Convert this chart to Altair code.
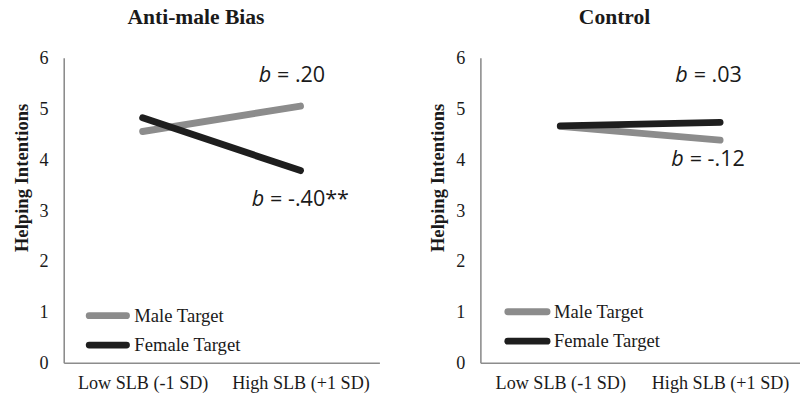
import altair as alt
import pandas as pd

levels = ["Low SLB (-1 SD)", "High SLB (+1 SD)"]
series = ["Male Target", "Female Target"]
panel_titles = ["Anti-male Bias", "Control"]
anti_male = [4.55, 5.05]
anti_female = [4.82, 3.78]
ctrl_male = [4.65, 4.38]
ctrl_female = [4.66, 4.73]
anti_slopes = [".20", "-.40**"]
ctrl_slopes = [".03", "-.12"]
y_ticks = [0, 1, 2, 3, 4, 5, 6]

colors = ["#8c8c8c", "#1e1e1e"]
SERIF = "Liberation Serif"
SANS = "Open Sans"

# label placement (value-axis position of each slope note, pixel nudge)
anti_note_y = [5.65, 3.22]
anti_note_dx = [-30, -37]
ctrl_note_y = [5.65, 4.0]
ctrl_note_dx = [-33, -37]


def panel(title, male, female, slopes, note_y, note_dx, width, leg):
    df = pd.DataFrame({
        "level": levels * 2,
        "series": [series[0]] * 2 + [series[1]] * 2,
        "value": male + female,
    })
    xscale = alt.Scale(domain=levels, type="point", padding=0.5)
    yscale = alt.Scale(domain=[0, 6], nice=False)
    xaxis = alt.Axis(title=None, labelAngle=0, ticks=False, labelPadding=11, grid=False)
    yaxis = alt.Axis(title="Helping Intentions", values=y_ticks, ticks=False, grid=False,
                     labelPadding=16, titlePadding=8, titleY=122)
    xenc = alt.X("level:N", sort=levels, scale=xscale, axis=xaxis)
    yenc = alt.Y("value:Q", scale=yscale, axis=yaxis)
    lines = alt.Chart(df).mark_line(strokeWidth=7, strokeCap="round").encode(
        x=xenc, y=yenc,
        color=alt.Color("series:N", scale=alt.Scale(domain=series, range=colors), legend=None),
        detail="series:N",
    )
    layers = [lines]
    for s, yv, dx in zip(slopes, note_y, note_dx):
        ndf = pd.DataFrame({"level": [levels[1]], "value": [yv], "b": ["b"], "rest": ["= " + s]})
        layers.append(alt.Chart(ndf).mark_text(font=SANS, fontSize=22, fontStyle="italic", align="right",
                                               baseline="middle", dx=dx, color="#1a1a1a").encode(
            x=xenc, y=yenc, text="b:N"))
        layers.append(alt.Chart(ndf).mark_text(font=SANS, fontSize=22, align="left",
                                               baseline="middle", dx=dx + 6, color="#1a1a1a").encode(
            x=xenc, y=yenc, text="rest:N"))
    # legend drawn inside the plot
    lx0, lx1, ltx, ly0, lgap = leg
    for i, name in enumerate(series):
        ldf = pd.DataFrame({"series": [name]})
        yy = ly0 + i * lgap
        layers.append(alt.Chart(ldf).mark_rule(strokeWidth=7, strokeCap="round", color=colors[i]).encode(
            x=alt.value(lx0), x2=alt.value(lx1), y=alt.value(yy)))
        layers.append(alt.Chart(ldf).mark_text(font=SERIF, fontSize=19, align="left", baseline="middle",
                                               color="#1a1a1a").encode(
            x=alt.value(ltx), y=alt.value(yy), text="series:N"))
    return alt.layer(*layers).properties(
        width=width, height=311,
        title=alt.TitleParams(title, font=SERIF, fontSize=22, fontWeight="bold", color="#1a1a1a",
                              anchor="middle", frame="bounds", offset=20),
    )


left = panel(panel_titles[0], anti_male, anti_female, anti_slopes, anti_note_y, anti_note_dx, 322,
             (26, 64, 72, 263, 30))
right = panel(panel_titles[1], ctrl_male, ctrl_female, ctrl_slopes, ctrl_note_y, ctrl_note_dx, 326,
              (28, 68, 75, 259, 30))

chart = alt.hconcat(left, right, spacing=50).properties(
    padding={"left": 12, "top": 3, "right": 0, "bottom": 0},
    background="white",
).configure_view(stroke=None).configure_axis(
    labelFont=SERIF, labelFontSize=18.5, labelColor="#1a1a1a",
    titleFont=SERIF, titleFontSize=19, titleFontWeight="bold", titleColor="#1a1a1a",
    domainColor="#8c8c8c", domainWidth=1.6,
)

chart.save("out.html", embed_options={"renderer": "svg", "actions": False})
